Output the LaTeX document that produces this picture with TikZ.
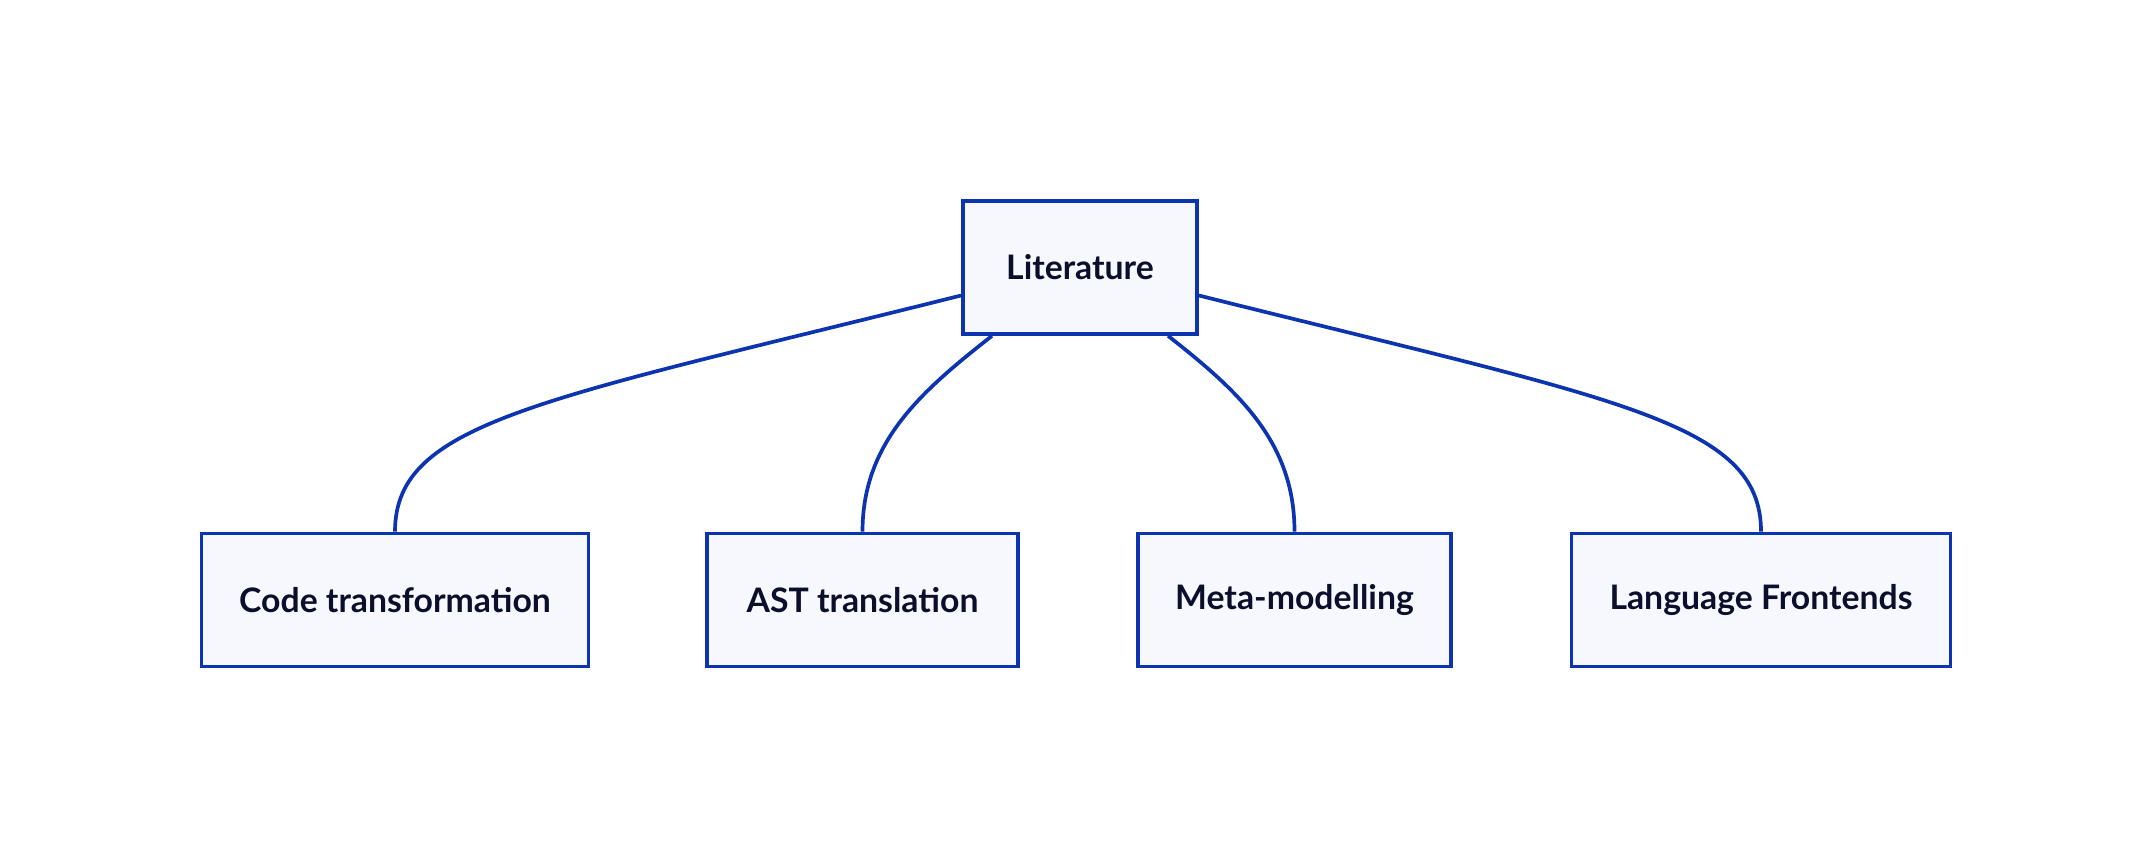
\documentclass[tikz,border=0pt]{standalone}
\usepackage{fontspec}
\setmainfont{Lato}
\usepackage{tikz}
\usetikzlibrary{positioning}

\definecolor{lineblue}{HTML}{0C33B0}
\definecolor{boxfill}{HTML}{F6F8FD}
\definecolor{inkdark}{HTML}{0B0F2B}

\begin{document}
\begin{tikzpicture}
    [
      x=0.01cm, y=-0.01cm,
      topic/.style={rectangle,draw=lineblue,fill=boxfill,line width=1.05pt,
        minimum height=1.33cm,inner xsep=0.1cm,text=inkdark,
        font=\fontsize{9.6pt}{11pt}\selectfont\bfseries},
      link/.style={draw=lineblue,line width=1.05pt},
    ]

    \useasboundingbox (0,0) rectangle (2152,868);

    \node (lit) [topic,minimum width=2.34cm] at (1080,267.5) {Literature};

    \node (code) [topic,minimum width=3.87cm] at (395,600) {Code transformation};
    \node (ast) [topic,minimum width=3.11cm] at (862.5,600) {AST translation};
    \node (meta) [topic,minimum width=3.13cm] at (1294.5,600) {Meta-modelling};
    \node (front) [topic,minimum width=3.79cm] at (1761,600) {Language Frontends};

    % curved links from the root down to each topic
    \draw [link] ([yshift=-0.28cm]lit.west) .. controls +(-420,105) and +(0,-110) .. (code.north);
    \draw [link] ([xshift=-0.88cm]lit.south) .. controls +(-70,55) and +(0,-90) .. (ast.north);
    \draw [link] ([xshift=0.88cm]lit.south) .. controls +(70,55) and +(0,-90) .. (meta.north);
    \draw [link] ([yshift=-0.28cm]lit.east) .. controls +(420,105) and +(0,-110) .. (front.north);

\end{tikzpicture}
\end{document}
